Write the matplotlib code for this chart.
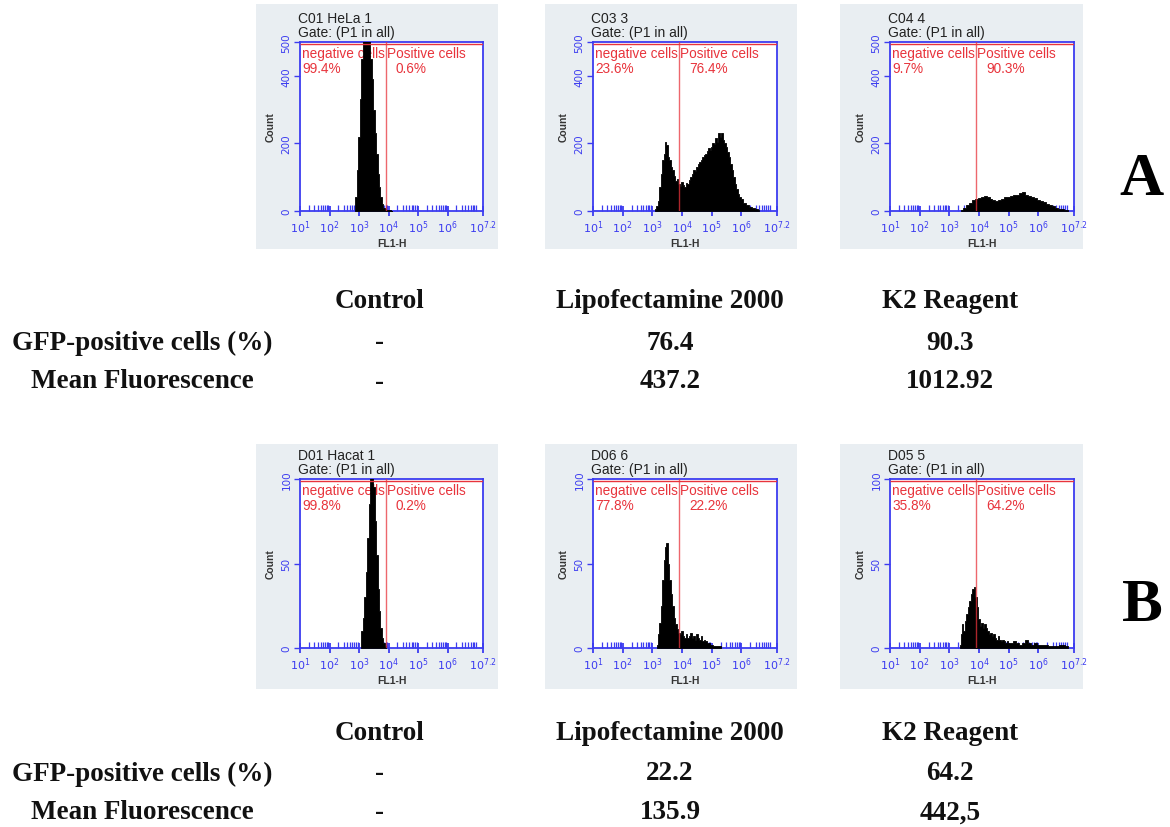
import numpy as np
import matplotlib.pyplot as plt
from matplotlib.patches import Rectangle
from matplotlib.ticker import LogLocator, NullFormatter
from matplotlib.transforms import blended_transform_factory

W, H = 1170, 828
BLUE = '#3c3cf0'
RED = '#e8343c'
BG = '#e9eef2'
GATE = 10 ** 3.9

# panel headers
titles = ['C01 HeLa 1', 'C03 3', 'C04 4', 'D01 Hacat 1', 'D06 6', 'D05 5']
neg_pct = ['99.4%', '23.6%', '9.7%', '99.8%', '77.8%', '35.8%']
pos_pct = ['0.6%', '76.4%', '90.3%', '0.2%', '22.2%', '64.2%']

# histograms: log10(FL1-H) bin centres and counts
a1_pos = [2.85, 2.9, 2.95, 3.0, 3.05, 3.1, 3.15, 3.2, 3.25, 3.3, 3.35, 3.4, 3.45,
          3.5, 3.55, 3.6, 3.65, 3.7, 3.75, 3.8, 3.85, 3.9, 3.95, 4.0, 4.05, 4.1]
a1_cnt = [10, 40, 120, 220, 330, 450, 560, 600, 600, 580, 520, 450, 390,
          300, 230, 170, 110, 70, 40, 20, 10, 5, 4, 3, 2, 1]

a2_pos = [3.1, 3.15, 3.2, 3.25, 3.3, 3.35, 3.4, 3.45, 3.5, 3.55, 3.6, 3.65, 3.7,
          3.75, 3.8, 3.85, 3.9, 3.95, 4.0, 4.05, 4.1, 4.15, 4.2, 4.25, 4.3, 4.35,
          4.4, 4.45, 4.5, 4.55, 4.6, 4.65, 4.7, 4.75, 4.8, 4.85, 4.9, 4.95, 5.0,
          5.05, 5.1, 5.15, 5.2, 5.25, 5.3, 5.35, 5.4, 5.45, 5.5, 5.55, 5.6, 5.65,
          5.7, 5.75, 5.8, 5.85, 5.9, 5.95, 6.0, 6.1, 6.2, 6.3, 6.4, 6.5, 6.6]
a2_cnt = [5, 15, 30, 70, 110, 150, 170, 205, 195, 160, 150, 130, 120,
          105, 90, 95, 80, 75, 85, 78, 70, 82, 80, 92, 100, 110,
          120, 118, 130, 140, 145, 150, 160, 165, 170, 178, 185, 180, 190,
          200, 198, 215, 205, 230, 220, 232, 210, 200, 190, 175, 160, 140,
          120, 100, 80, 65, 50, 42, 35, 25, 18, 12, 8, 5, 2]

a3_pos = [3.4, 3.5, 3.6, 3.7, 3.8, 3.9, 4.0, 4.1, 4.2, 4.3, 4.4, 4.5, 4.6, 4.7,
          4.8, 4.9, 5.0, 5.1, 5.2, 5.3, 5.4, 5.5, 5.6, 5.7, 5.8, 5.9, 6.0, 6.1,
          6.2, 6.3, 6.4, 6.5, 6.6, 6.7, 6.8, 6.9, 7.0]
a3_cnt = [3, 10, 18, 25, 32, 35, 38, 40, 44, 40, 36, 32, 30, 33,
          36, 40, 42, 44, 46, 48, 52, 55, 48, 45, 42, 38, 34, 30,
          26, 22, 18, 14, 10, 7, 5, 3, 2]

b1_pos = [3.05, 3.1, 3.15, 3.2, 3.25, 3.3, 3.35, 3.4, 3.45, 3.5, 3.55, 3.6,
          3.65, 3.7, 3.75, 3.8, 3.85, 3.9]
b1_cnt = [3, 10, 18, 30, 45, 65, 85, 105, 110, 95, 75, 55,
          35, 22, 12, 6, 3, 1]

b2_pos = [3.15, 3.2, 3.25, 3.3, 3.35, 3.4, 3.45, 3.5, 3.55, 3.6, 3.65, 3.7,
          3.75, 3.8, 3.85, 3.9, 3.95, 4.0, 4.05, 4.1, 4.15, 4.2, 4.25, 4.3,
          4.35, 4.4, 4.45, 4.5, 4.55, 4.6, 4.65, 4.7, 4.75, 4.8, 4.85, 4.9,
          4.95, 5.0, 5.1, 5.2, 5.3]
b2_cnt = [2, 8, 15, 25, 40, 52, 60, 62, 50, 40, 32, 25,
          18, 14, 11, 9, 8, 10, 7, 6, 8, 6, 7, 9,
          6, 7, 5, 8, 6, 5, 7, 4, 5, 4, 3, 3,
          2, 2, 1, 1, 1]

b3_pos = [3.35, 3.4, 3.45, 3.5, 3.55, 3.6, 3.65, 3.7, 3.75, 3.8, 3.85, 3.9,
          3.95, 4.0, 4.05, 4.1, 4.15, 4.2, 4.25, 4.3, 4.35, 4.4, 4.45, 4.5,
          4.55, 4.6, 4.65, 4.7, 4.75, 4.8, 4.85, 4.9, 4.95, 5.0, 5.1, 5.2,
          5.3, 5.4, 5.5, 5.6, 5.7, 5.8, 5.9, 6.0, 6.2, 6.4, 6.6, 6.8, 7.0]
b3_cnt = [2, 8, 14, 10, 16, 20, 24, 28, 32, 35, 36, 30,
          24, 17, 13, 15, 12, 14, 12, 10, 8, 9, 7, 8,
          6, 5, 7, 5, 4, 5, 4, 3, 4, 3, 3, 4,
          3, 2, 3, 5, 3, 2, 3, 2, 2, 1, 1, 2, 1]

hist_pos = [a1_pos, a2_pos, a3_pos, b1_pos, b2_pos, b3_pos]
hist_cnt = [a1_cnt, a2_cnt, a3_cnt, b1_cnt, b2_cnt, b3_cnt]
y_max = [500, 500, 500, 100, 100, 100]
y_ticks = [[0, 200, 400, 500]] * 3 + [[0, 50, 100]] * 3

x_tick_exp = [1, 2, 3, 4, 5, 6, 7.2]
x_tick_lab = ['$10^{1}$', '$10^{2}$', '$10^{3}$', '$10^{4}$', '$10^{5}$',
              '$10^{6}$', '$10^{7.2}$']

# table under each row of plots
col_heads = ['Control', 'Lipofectamine 2000', 'K2 Reagent']
row_labels = ['GFP-positive cells (%)', 'Mean Fluorescence']
a_gfp = ['-', '76.4', '90.3']
a_mean = ['-', '437.2', '1012.92']
b_gfp = ['-', '22.2', '64.2']
b_mean = ['-', '135.9', '442,5']

fig = plt.figure(figsize=(11.7, 8.28), dpi=100)
fig.patch.set_facecolor('white')


def px_rect(x, y, w, h):
    return [x / W, 1 - (y + h) / H, w / W, h / H]


frame_x = [300, 593, 890]
frame_w = [183, 184, 184]
frame_y = [43, 43, 43, 480, 480, 480]
bg_x = [(256, 498), (545, 797), (840, 1083)]
bg_y = [(5, 250), (445, 690)]

for i in range(6):
    col = i % 3
    row = i // 3
    bx0, bx1 = bg_x[col]
    by0, by1 = bg_y[row]
    fig.patches.append(Rectangle((bx0 / W, 1 - by1 / H), (bx1 - bx0) / W,
                                 (by1 - by0) / H, transform=fig.transFigure,
                                 facecolor=BG, edgecolor='none', zorder=-5))

    ax = fig.add_axes(px_rect(frame_x[col], frame_y[i], frame_w[col], 169))
    ax.set_zorder(2)
    ax.set_facecolor('white')
    ax.set_xscale('log')
    ax.set_xlim(10 ** 1, 10 ** 7.2)
    ax.set_ylim(0, y_max[i])

    xs = 10 ** np.array(hist_pos[i])
    ax.fill_between(xs, hist_cnt[i], step='mid', color='black', lw=0.6,
                    edgecolor='black', zorder=3)

    # gate marker
    ax.axvline(GATE, color=RED, lw=1, alpha=0.75, zorder=4)
    ax.hlines(y_max[i] * 0.99, 10 ** 1.01, 10 ** 7.19, color=RED, lw=1, zorder=4)

    ax.text(0.012, 0.975, 'negative cells', transform=ax.transAxes, color=RED,
            fontsize=9.8, va='top', ha='left', family='Liberation Sans', zorder=2)
    ax.text(0.012, 0.885, neg_pct[i], transform=ax.transAxes, color=RED,
            fontsize=9.8, va='top', ha='left', family='Liberation Sans', zorder=2)
    tr = blended_transform_factory(ax.transData, ax.transAxes)
    ax.text(GATE * 1.1, 0.975, 'Positive cells', transform=tr, color=RED,
            fontsize=9.8, va='top', ha='left', family='Liberation Sans', zorder=2)
    ax.text(GATE * 2.2, 0.885, pos_pct[i], transform=tr, color=RED,
            fontsize=9.8, va='top', ha='left', family='Liberation Sans', zorder=2)

    ax.text(-0.01, 1.14, titles[i], transform=ax.transAxes, fontsize=10,
            va='center', ha='left', family='Liberation Sans', color='#222222')
    ax.text(-0.01, 1.06, 'Gate: (P1 in all)', transform=ax.transAxes, fontsize=10,
            va='center', ha='left', family='Liberation Sans', color='#222222')

    for s in ax.spines.values():
        s.set_color(BLUE)
        s.set_linewidth(1.3)

    ax.set_xticks([10 ** e for e in x_tick_exp])
    ax.set_xticklabels(x_tick_lab)
    ax.xaxis.set_minor_locator(LogLocator(base=10, subs=np.arange(2, 10), numticks=50))
    ax.xaxis.set_minor_formatter(NullFormatter())
    ax.tick_params(axis='x', which='major', direction='inout', length=7, width=1.3,
                   color=BLUE, labelcolor=BLUE, labelsize=8, pad=2)
    ax.tick_params(axis='x', which='minor', direction='in', length=4, width=0.9,
                   color=BLUE)

    ax.set_yticks(y_ticks[i])
    ax.set_yticklabels([str(t) for t in y_ticks[i]], rotation=90, va='center')
    ax.tick_params(axis='y', direction='out', length=4, width=1, color=BLUE,
                   labelcolor=BLUE, labelsize=7.5, pad=2)

    ax.set_xlabel('FL1-H', fontsize=7.5, fontweight='bold', labelpad=2,
                  family='Liberation Sans', color='#333333')
    ax.set_ylabel('Count', fontsize=7.5, fontweight='bold', labelpad=4,
                  family='Liberation Sans', color='#333333')

# tables and panel letters
col_x = [380, 670, 950]
serif = dict(family='Liberation Serif', fontweight='bold', fontsize=19.5,
             ha='center', va='center', color='#111111')


def ftext(x, y, s, **kw):
    fig.text(x / W, 1 - y / H, s, **kw)


blocks = [(302, a_gfp, a_mean, 'A', 180), (733, b_gfp, b_mean, 'B', 606)]
for y0, gfp, mean, letter, ly in blocks:
    for cx, head in zip(col_x, col_heads):
        ftext(cx, y0, head, **serif)
    ftext(142, y0 + 41, row_labels[0], **serif)
    ftext(142, y0 + 80, row_labels[1], **serif)
    for cx, v in zip(col_x, gfp):
        ftext(cx, y0 + 41, v, **serif)
    for cx, v in zip(col_x, mean):
        ftext(cx, y0 + 80, v, **serif)
    ftext(1142, ly, letter, family='Liberation Serif', fontweight='bold',
          fontsize=44, ha='center', va='center')

fig.savefig('out.png', dpi=100)
